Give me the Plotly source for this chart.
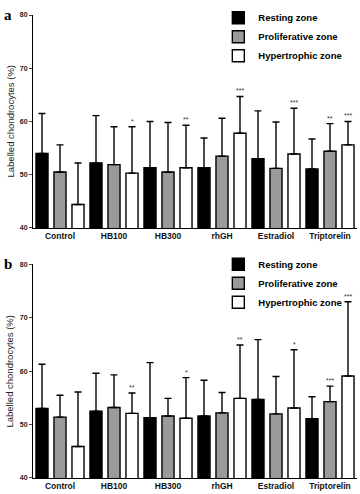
import plotly.graph_objects as go
from plotly.subplots import make_subplots

categories = ["Control", "HB100", "HB300", "rhGH", "Estradiol", "Triptorelin"]
zones = ["Resting zone", "Proliferative zone", "Hypertrophic zone"]

# Panel a: means and top of error bars
a_rest = [54.0, 52.2, 51.3, 51.3, 53.0, 51.1]
a_rest_top = [61.5, 61.1, 60.0, 56.9, 62.0, 56.7]
a_prol = [50.5, 51.9, 50.5, 53.5, 51.2, 54.4]
a_prol_top = [55.6, 59.0, 59.8, 60.6, 59.9, 59.6]
a_hyp = [44.4, 50.3, 51.3, 57.8, 53.9, 55.6]
a_hyp_top = [52.2, 59.0, 59.3, 64.7, 62.5, 60.0]
a_rest_sig = ["", "", "", "", "", ""]
a_prol_sig = ["", "", "", "", "", "**"]
a_hyp_sig = ["", "*", "**", "***", "***", "***"]

# Panel b
b_rest = [53.0, 52.5, 51.3, 51.6, 54.7, 51.1]
b_rest_top = [61.3, 59.6, 61.6, 58.3, 65.9, 55.2]
b_prol = [51.4, 53.2, 51.6, 52.2, 52.0, 54.3]
b_prol_top = [55.5, 59.3, 54.9, 56.0, 59.0, 57.2]
b_hyp = [45.9, 52.1, 51.2, 54.9, 53.1, 59.1]
b_hyp_top = [56.1, 55.9, 58.8, 64.9, 64.0, 73.0]
b_rest_sig = ["", "", "", "", "", ""]
b_prol_sig = ["", "", "", "", "", "***"]
b_hyp_sig = ["", "**", "*", "**", "*", "***"]

y_ticks = [40, 50, 60, 70, 80]

colors = ["#000000", "#9a9a9a", "#ffffff"]
FONT = "Liberation Sans"

fig = make_subplots(rows=2, cols=1, vertical_spacing=0.08)

panels = [
    (1, [a_rest, a_prol, a_hyp], [a_rest_top, a_prol_top, a_hyp_top],
     [a_rest_sig, a_prol_sig, a_hyp_sig], "legend"),
    (2, [b_rest, b_prol, b_hyp], [b_rest_top, b_prol_top, b_hyp_top],
     [b_rest_sig, b_prol_sig, b_hyp_sig], "legend2"),
]

slot_px = 18  # pixel offset between bars within a group
for row, vals, tops, sigs, leg in panels:
    for i, z in enumerate(zones):
        err = [t - v for t, v in zip(tops[i], vals[i])]
        fig.add_trace(go.Bar(
            x=categories, y=vals[i], name=z, legend=leg,
            marker=dict(color=colors[i], line=dict(color="#000000", width=1.4)),
            error_y=dict(type="data", symmetric=False, array=err,
                         arrayminus=[0] * len(err), color="#000000",
                         thickness=1.4, width=3.5),
        ), row=row, col=1)
        for c, t, s in zip(categories, tops[i], sigs[i]):
            if s:
                fig.add_annotation(
                    x=c, y=t, text=s, showarrow=False, xref=f"x{'' if row == 1 else row}",
                    yref=f"y{'' if row == 1 else row}", yanchor="bottom",
                    xshift=(i - 1) * slot_px, yshift=0,
                    font=dict(family=FONT, size=7, color="#333333"))

axis_font = dict(family=FONT, size=7, color="#222222", weight="bold")
for r in (1, 2):
    fig.update_yaxes(range=[40, 80], tickvals=y_ticks, ticks="outside", ticklen=3,
                     tickwidth=1, showline=True, linecolor="#000000", linewidth=1,
                     showgrid=False, zeroline=False, tickfont=axis_font,
                     row=r, col=1)
    fig.update_xaxes(showline=True, linecolor="#000000", linewidth=1, showgrid=False,
                     ticks="", tickfont=dict(family=FONT, size=8.5, color="#111111", weight="bold"),
                     row=r, col=1)

fig.update_layout(
    xaxis=dict(domain=[0, 1]), xaxis2=dict(domain=[0, 1]),
    yaxis=dict(domain=[0.540, 1.0]), yaxis2=dict(domain=[0.0, 0.4615]),
)

fig.update_layout(
    width=360, height=494, barmode="group", bargap=0.0, bargroupgap=0.33,
    margin=dict(l=33, r=3, t=10, b=16),
    paper_bgcolor="white", plot_bgcolor="white",
    font=dict(family=FONT, color="#000000"),
    legend=dict(x=0.572, y=0.953, xanchor="left", yanchor="middle",
                font=dict(family=FONT, size=9.5, weight="bold"),
                bgcolor="rgba(0,0,0,0)", itemwidth=30, tracegroupgap=0),
    legend2=dict(x=0.572, y=0.4205, xanchor="left", yanchor="middle",
                 font=dict(family=FONT, size=9.5, weight="bold"),
                 bgcolor="rgba(0,0,0,0)", itemwidth=30, tracegroupgap=0),
    showlegend=True,
)

# y-axis titles and panel letters
for ymid, letter, ytop in [(0.77, "a", 1.0), (0.23, "b", 0.4615)]:
    fig.add_annotation(text="Labelled chondrocytes (%)", textangle=-90, showarrow=False,
                       xref="paper", yref="paper", x=0, y=ymid, xshift=-23,
                       xanchor="center", yanchor="middle",
                       font=dict(family=FONT, size=9.5, color="#222222"))
    fig.add_annotation(text=letter, showarrow=False, xref="paper", yref="paper",
                       x=0, y=ytop, xshift=-25, yshift=0,
                       xanchor="center", yanchor="middle",
                       font=dict(family="Liberation Serif", size=15, color="#000000",
                                 weight="bold"))

fig.write_html("out.html", config={"displayModeBar": False},
               post_script="document.body.style.margin='0px';")
